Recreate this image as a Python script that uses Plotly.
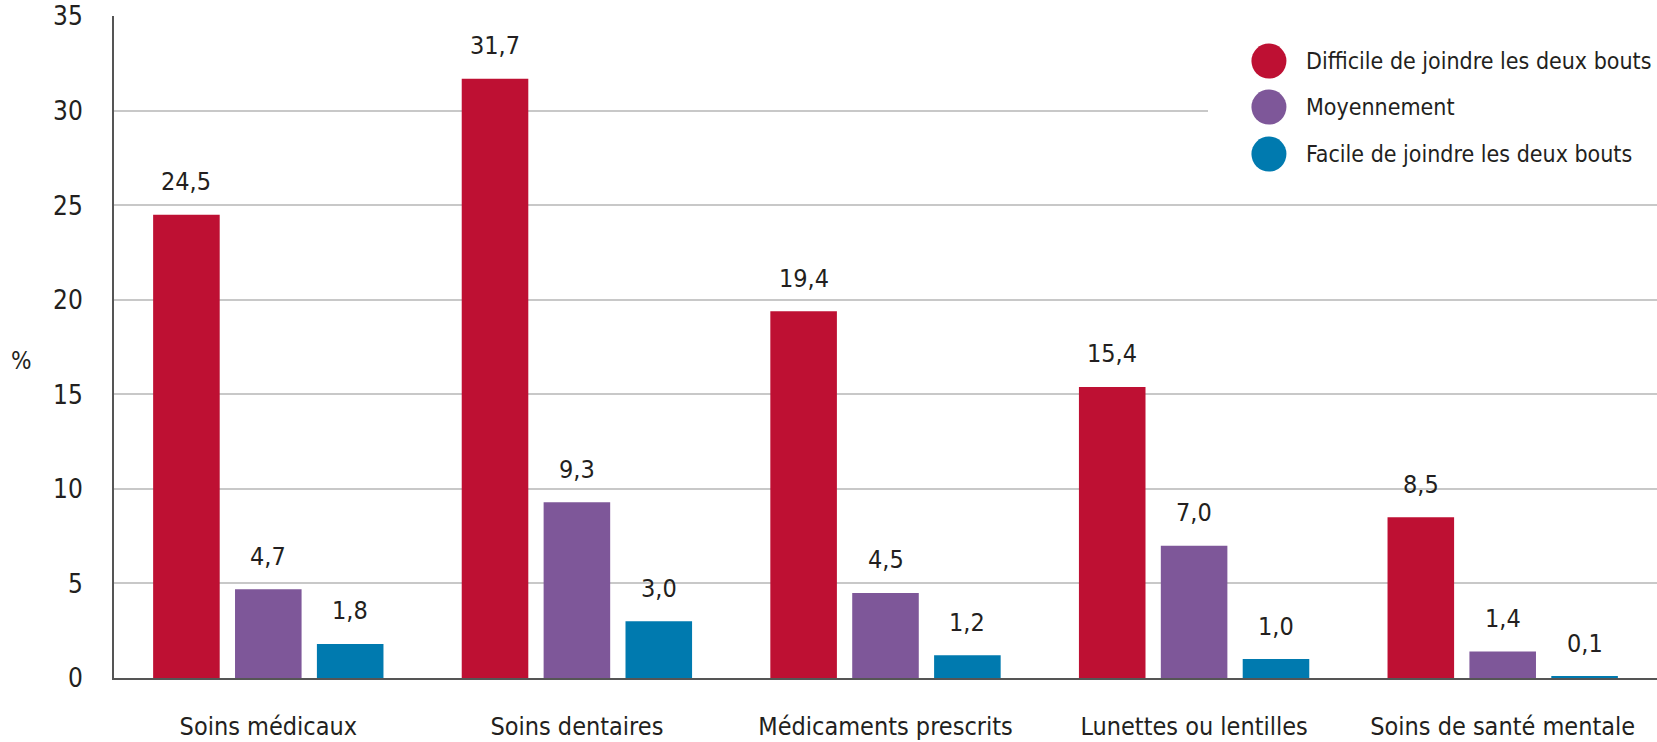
''' Renoncement aux soins selon la situation financière (barres groupées) '''

import plotly.graph_objects as go

# Data
categories = ['Soins médicaux', 'Soins dentaires', 'Médicaments prescrits',
              'Lunettes ou lentilles', 'Soins de santé mentale']
series_names = ['Difficile de joindre les deux bouts', 'Moyennement',
                'Facile de joindre les deux bouts']
difficile = [24.5, 31.7, 19.4, 15.4, 8.5]
moyen = [4.7, 9.3, 4.5, 7.0, 1.4]
facile = [1.8, 3.0, 1.2, 1.0, 0.1]
y_ticks = [0, 5, 10, 15, 20, 25, 30, 35]

COLORS = ['#BE1033', '#7E5799', '#007AAF']
FONT = 'DejaVu Sans Condensed, Roboto'
TXT = '#231F20'

W, H = 1657, 742
M = dict(l=114, r=0, t=16, b=64)
BARGAP = 0.204
PLOT_W = W - M['l'] - M['r']
step = PLOT_W / len(categories) * (1 - BARGAP) / 3  # pixel width of one bar slot

fig = go.Figure()
annotations = []
for i, (name, vals) in enumerate(zip(series_names, [difficile, moyen, facile])):
    fig.add_trace(go.Bar(
        x=categories, y=vals, name=name,
        marker=dict(color=COLORS[i], line=dict(width=0)),
        showlegend=False,
    ))
    # Value labels above each bar
    for c, v in zip(categories, vals):
        annotations.append(dict(
            x=c, y=v, xref='x', yref='y',
            text=f'{v:.1f}'.replace('.', ','),
            showarrow=False, xanchor='center', yanchor='middle',
            xshift=(i - 1) * step, yshift=33,
            font=dict(family=FONT, size=25, color=TXT),
        ))

# Hand-made legend with large round markers
shapes = [dict(type='rect', xref='paper', yref='paper', x0=0.709, x1=1.0,
               y0=0.76, y1=0.979, fillcolor='white', line=dict(width=0), layer='above')]
leg_y = [0.932, 0.8625, 0.7915]
for i, name in enumerate(series_names):
    shapes.append(dict(type='circle', xref='paper', yref='paper',
                       xsizemode='pixel', ysizemode='pixel',
                       xanchor=0.7485, yanchor=leg_y[i],
                       x0=-17.5, x1=17.5, y0=-17.5, y1=17.5,
                       fillcolor=COLORS[i], line=dict(width=0), layer='above'))
    annotations.append(dict(x=0.7712, y=leg_y[i], xref='paper', yref='paper',
                            text=name, showarrow=False, xanchor='left', yanchor='middle',
                            font=dict(family=FONT, size=23, color=TXT)))

# Axis unit label
annotations.append(dict(x=0, y=0.479, xref='paper', yref='paper', text='%',
                        showarrow=False, xanchor='center', yanchor='middle', xshift=-93,
                        font=dict(family=FONT, size=24, color=TXT)))

fig.update_layout(
    width=W, height=H, margin=M,
    barmode='group', bargap=BARGAP, bargroupgap=0.187,
    paper_bgcolor='white', plot_bgcolor='white',
    font=dict(family=FONT, size=25, color=TXT),
    annotations=annotations, shapes=shapes,
    xaxis=dict(
        automargin=False,
        showgrid=False, showline=True, linecolor='#555555', linewidth=2,
        ticks='', ticklabelstandoff=25,
        tickfont=dict(family=FONT, size=25, color=TXT),
    ),
    yaxis=dict(
        automargin=False,
        range=[0, 35.02], tickvals=y_ticks, ticktext=[str(t) for t in y_ticks],
        showgrid=True, gridcolor='#C8C8C8', gridwidth=1.5,
        showline=True, linecolor='#555555', linewidth=2,
        zeroline=False, ticks='', ticklabelstandoff=24,
        tickfont=dict(family=FONT, size=26, color=TXT),
    ),
)

# Drop the default page margin so the figure fills the window exactly
fig.write_html('out.html', config={'displayModeBar': False},
               post_script="document.body.style.margin='0';")
